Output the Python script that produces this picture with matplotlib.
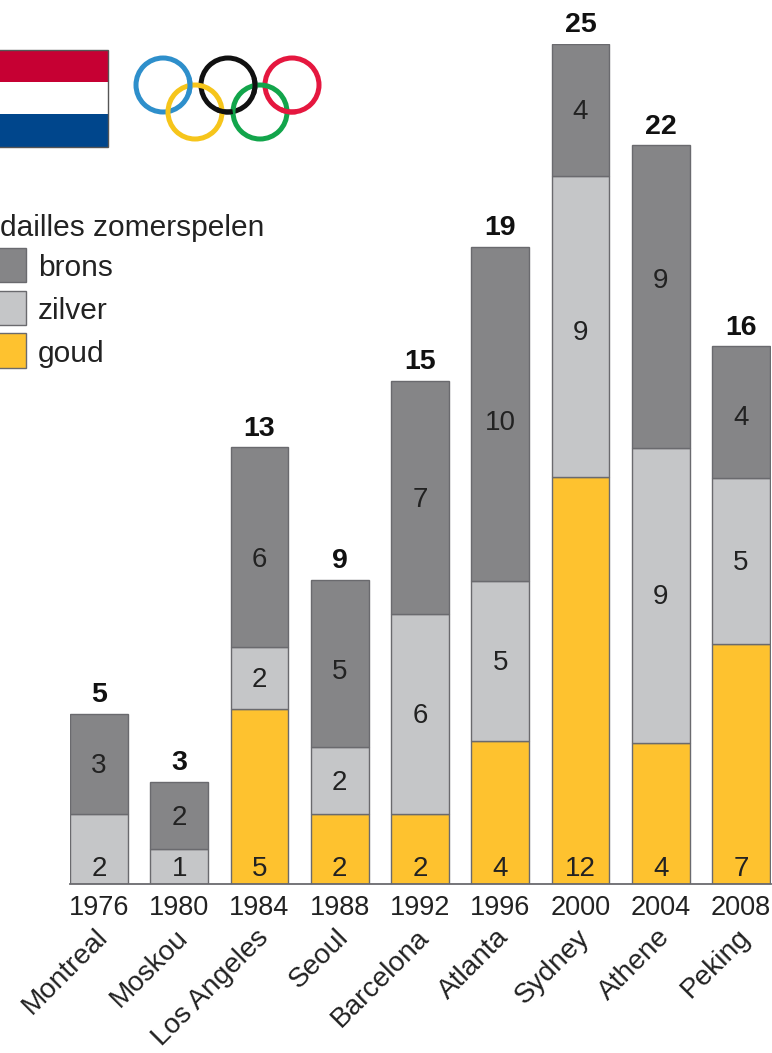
#!/usr/bin/env python3
"""Dutch medals at the summer Olympics, 1976-2008."""

import matplotlib

matplotlib.use("Agg")
import matplotlib.pyplot as plt
import numpy as np
from matplotlib.patches import Arc, Circle, Rectangle

YEARS = ["1976", "1980", "1984", "1988", "1992", "1996", "2000", "2004", "2008"]
CITIES = [
    "Montreal",
    "Moskou",
    "Los Angeles",
    "Seoul",
    "Barcelona",
    "Atlanta",
    "Sydney",
    "Athene",
    "Peking",
]
# medal counts as printed on the bars
GOUD = [0, 0, 5, 2, 2, 4, 12, 4, 7]
ZILVER = [2, 1, 2, 2, 6, 5, 9, 9, 5]
BRONS = [3, 2, 6, 5, 7, 10, 4, 9, 4]
# segment heights as drawn in the picture, these differ slightly from the counts
GOUD_DRAWN = [0, 0, 5.21, 2.08, 2.08, 4.26, 12.11, 4.2, 7.14]
ZILVER_DRAWN = [2.08, 1.04, 1.84, 2.0, 5.96, 4.76, 8.96, 8.78, 4.94]
BRONS_DRAWN = [2.98, 2.0, 5.95, 4.97, 6.93, 9.94, 3.93, 9.01, 3.93]

LEGEND_TITLE = "dailles zomerspelen"
SERIES_NAMES = ["brons", "zilver", "goud"]

COLORS = {"goud": "#FEC22F", "zilver": "#C5C6C8", "brons": "#858587"}
EDGE = "#6A6A6E"
TEXT = "#222222"
W, H = 772, 1053
# a few numbers sit off the middle of their segment (points, + is down)
LABEL_SHIFT = {
    ("brons", 2): 8,
    ("brons", 3): 5,
    ("brons", 5): 5,
    ("brons", 7): -13,
    ("brons", 8): 3,
    ("zilver", 6): 3,
}

plt.rcParams["font.family"] = ["Liberation Sans", "DejaVu Sans"]


def draw_bars(ax):
    bottoms = np.zeros(len(YEARS))
    x = np.arange(len(YEARS))
    series = [("goud", GOUD, GOUD_DRAWN), ("zilver", ZILVER, ZILVER_DRAWN), ("brons", BRONS, BRONS_DRAWN)]
    for name, counts, drawn in series:
        drawn = np.array(drawn)
        ax.bar(x, drawn, 0.72, bottom=bottoms, color=COLORS[name], edgecolor=EDGE, linewidth=1)
        for i, count in enumerate(counts):
            if count == 0:
                continue
            # the lowest segment keeps its number down at the axis
            y = 0.5 if bottoms[i] == 0 else bottoms[i] + drawn[i] / 2
            ax.annotate(
                str(count),
                (i, y),
                xytext=(0, -LABEL_SHIFT.get((name, i), 0) - 1.5),
                textcoords="offset points",
                ha="center",
                va="center",
                fontsize=20,
                color=TEXT,
            )
        bottoms = bottoms + drawn
    totals = np.array(GOUD) + np.array(ZILVER) + np.array(BRONS)
    for i, total in enumerate(totals):
        ax.annotate(
            str(total),
            (i, bottoms[i]),
            xytext=(0, 4),
            textcoords="offset points",
            ha="center",
            va="bottom",
            fontsize=20.5,
            fontweight="bold",
            color="#111111",
        )


def draw_decoration(deco):
    # flag, cut off by the left edge just like the legend
    for top, bottom, color in [(50, 82, "#C60033"), (82, 114, "#FFFFFF"), (114, 147, "#00468C")]:
        deco.add_patch(Rectangle((-5, H - bottom), 113, bottom - top, facecolor=color, edgecolor="none"))
    deco.add_patch(Rectangle((-5, H - 147), 113, 97, fill=False, edgecolor="#555555", linewidth=1))

    rings = {
        "blue": (163, 85, "#2E8FCB"),
        "black": (228, 85, "#111111"),
        "red": (292, 85, "#E5173F"),
        "yellow": (195, 112, "#F6C51B"),
        "green": (260, 112, "#12A54B"),
    }
    for x, y, color in rings.values():
        deco.add_patch(Circle((x, H - y), 27, fill=False, edgecolor=color, linewidth=3.6))
    for name, start, end in [("blue", -20, 15), ("black", 245, 280), ("black", -20, 15), ("red", 245, 280)]:
        x, y, color = rings[name]
        deco.add_patch(Arc((x, H - y), 54, 54, theta1=start, theta2=end, edgecolor=color, linewidth=3.6))

    deco.text(0, H - 228, LEGEND_TITLE, fontsize=21.5, color=TEXT, va="center", ha="left")
    for name, top, bottom in zip(SERIES_NAMES, [248, 291, 333], [282, 325, 368]):
        deco.add_patch(
            Rectangle((-5, H - bottom), 31, bottom - top, facecolor=COLORS[name], edgecolor=EDGE, linewidth=1)
        )
        deco.text(38, H - (top + bottom) / 2 - 3, name, fontsize=21.5, color=TEXT, va="center", ha="left")


def main():
    fig = plt.figure(figsize=(W / 100, H / 100), dpi=100)
    ax = fig.add_axes([70 / W, 1 - 884 / H, 701 / W, 840 / H])
    ax.patch.set_visible(False)
    draw_bars(ax)
    ax.set_xlim(-0.36, 8.375)
    ax.set_ylim(0, 25)
    ax.set_yticks([])
    ax.set_xticks(np.arange(len(YEARS)), YEARS, fontsize=19.5, color=TEXT)
    ax.tick_params(axis="x", length=0, pad=8)
    for side in ["top", "left", "right"]:
        ax.spines[side].set_visible(False)
    ax.spines["bottom"].set_color(EDGE)
    ax.spines["bottom"].set_linewidth(1.3)

    for i, city in enumerate(CITIES):
        ax.annotate(
            city,
            (i, 0),
            xytext=(-3, -29),
            textcoords="offset points",
            rotation=45,
            rotation_mode="anchor",
            ha="right",
            va="top",
            fontsize=20.2,
            color=TEXT,
        )

    deco = fig.add_axes([0, 0, 1, 1], zorder=-1)
    deco.set_xlim(0, W)
    deco.set_ylim(0, H)
    deco.axis("off")
    draw_decoration(deco)

    fig.savefig("out.png", dpi=100)
    plt.close(fig)


if __name__ == "__main__":
    main()
